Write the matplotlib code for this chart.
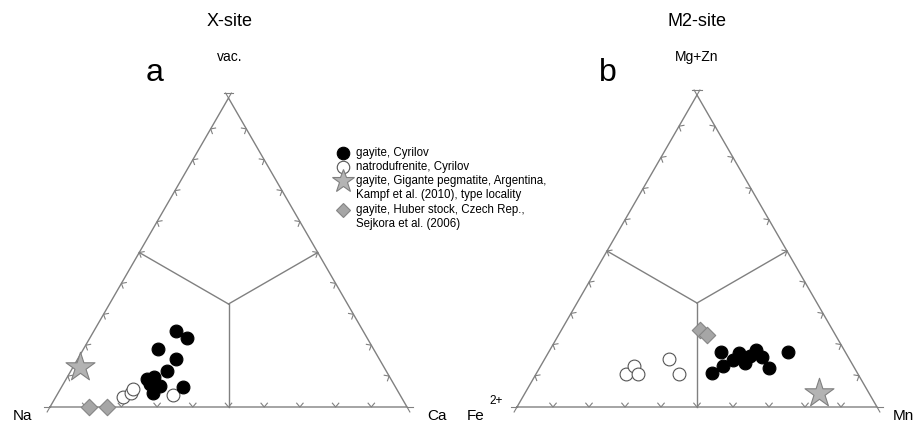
import numpy as np
import matplotlib
matplotlib.use("Agg")
import matplotlib.pyplot as plt
from matplotlib.lines import Line2D

plt.rcParams['font.family'] = ['Liberation Sans', 'DejaVu Sans']

# X-site (a): fractions of Ca (right corner) and vacancy (top corner), Na is the rest
a_gay_ca = [0.230, 0.272, 0.209, 0.275, 0.270, 0.226, 0.243, 0.274, 0.266, 0.340, 0.243]
a_gay_vac = [0.246, 0.223, 0.188, 0.155, 0.116, 0.091, 0.097, 0.068, 0.045, 0.065, 0.074]
a_nat_ca = [0.188, 0.204, 0.203, 0.325]
a_nat_vac = [0.032, 0.045, 0.058, 0.039]
a_kampf_ca = [0.019]
a_kampf_vac = [0.129]
a_sejk_ca = [0.109, 0.160]
a_sejk_vac = [0.0, 0.0]

# M2-site (b): fractions of Mn (right corner) and Mg+Zn (top corner), Fe2+ is the rest
b_gay_mn = [0.486, 0.507, 0.477, 0.525, 0.530, 0.562, 0.565, 0.572, 0.600, 0.639, 0.665]
b_gay_mg = [0.110, 0.132, 0.177, 0.151, 0.174, 0.142, 0.164, 0.183, 0.159, 0.124, 0.177]
b_nat_mn = [0.250, 0.259, 0.284, 0.346, 0.398]
b_nat_mg = [0.105, 0.132, 0.105, 0.154, 0.105]
b_kampf_mn = [0.817]
b_kampf_mg = [0.046]
b_sejk_mn = [0.385, 0.411]
b_sejk_mg = [0.247, 0.231]

legend_labels = [
    "gayite, Cyrilov",
    "natrodufrenite, Cyrilov",
    "gayite, Gigante pegmatite, Argentina,\nKampf et al. (2010), type locality",
    "gayite, Huber stock, Czech Rep.,\nSejkora et al. (2006)",
]

H = np.sqrt(3) / 2
GREY = "#808080"


def to_xy(right, top):
    right = np.asarray(right, float)
    top = np.asarray(top, float)
    return right + top / 2, top * H


def frame(ax):
    corners = np.array([[0, 0], [1, 0], [0.5, H]])
    tri = np.vstack([corners, corners[:1]])
    ax.plot(tri[:, 0], tri[:, 1], color=GREY, lw=1, clip_on=False)
    # lines from the centre to the middle of each side
    c = corners.mean(axis=0)
    for i in range(3):
        m = (corners[i] + corners[(i + 1) % 3]) / 2
        ax.plot([c[0], m[0]], [c[1], m[1]], color=GREY, lw=1, clip_on=False)
    # chevron ticks every 10 %
    L = 0.014
    ang = np.radians(40)
    for i in range(3):
        p0, p1 = corners[i], corners[(i + 1) % 3]
        t = (p1 - p0) / np.linalg.norm(p1 - p0)
        n = np.array([-t[1], t[0]])
        for k in range(1, 10):
            p = p0 + (p1 - p0) * k / 10
            a1 = p + L * (n * np.cos(ang) + t * np.sin(ang))
            a2 = p + L * (n * np.cos(ang) - t * np.sin(ang))
            ax.plot([a1[0], p[0], a2[0]], [a1[1], p[1], a2[1]],
                    color=GREY, lw=0.8, clip_on=False)
    # little caps at the corners
    for i in range(3):
        p = corners[i]
        for j in (i + 1, i + 2):
            q = corners[j % 3]
            d = (p - q) / np.linalg.norm(p - q)
            e = p + d * 0.016
            ax.plot([p[0], e[0]], [p[1], e[1]], color=GREY, lw=0.8, clip_on=False)
    ax.plot([0.5 - 0.014, 0.5 + 0.014], [H + 0.016 * H * 1.05] * 2,
            color=GREY, lw=0.8, clip_on=False)
    ax.set_xlim(0, 1)
    ax.set_ylim(0, H)
    ax.axis("off")


def points(ax, gay, nat, kampf, sejk):
    x, y = to_xy(*sejk)
    ax.scatter(x, y, marker="D", s=70, c="#a6a6a6", edgecolors="#858585",
               linewidths=0.8, clip_on=False, zorder=3)
    x, y = to_xy(*kampf)
    ax.scatter(x, y, marker="*", s=480, c="#b3b3b3", edgecolors="#808080",
               linewidths=0.8, clip_on=False, zorder=3)
    x, y = to_xy(*nat)
    ax.scatter(x, y, marker="o", s=85, c="white", edgecolors="#555555",
               linewidths=0.8, clip_on=False, zorder=3)
    x, y = to_xy(*gay)
    ax.scatter(x, y, marker="o", s=85, c="black", edgecolors="black",
               linewidths=0.8, clip_on=False, zorder=4)


W, Hpx = 916, 426
fig = plt.figure(figsize=(W / 100, Hpx / 100), dpi=100)

axa = fig.add_axes([50 / W, 19 / Hpx, 357 / W, 309 / Hpx])
axb = fig.add_axes([517 / W, 19 / Hpx, 360 / W, 312 / Hpx])
frame(axa)
frame(axb)
points(axa, (a_gay_ca, a_gay_vac), (a_nat_ca, a_nat_vac),
       (a_kampf_ca, a_kampf_vac), (a_sejk_ca, a_sejk_vac))
points(axb, (b_gay_mn, b_gay_mg), (b_nat_mn, b_nat_mg),
       (b_kampf_mn, b_kampf_mg), (b_sejk_mn, b_sejk_mg))


def ftext(x, y, s, size, **kw):
    fig.text(x / W, 1 - y / Hpx, s, fontsize=size, ha="center", va="center", **kw)


ftext(230, 22, "X-site", 13)
ftext(230, 57, "vac.", 10)
ftext(155, 73, "a", 23)
ftext(22, 416, "Na", 11)
ftext(437, 416, "Ca", 11)

ftext(697, 22, "M2-site", 13)
ftext(697, 57, "Mg+Zn", 10)
ftext(608, 73, "b", 23)
ftext(476, 416, "Fe", 11)
ftext(496, 401, "2+", 8.5)
ftext(903, 416, "Mn", 11)

# legend
lx, tx = 343, 356
rows = [153, 167, 181, 196, 210, 224]
styles = [
    dict(marker="o", ms=9, mfc="black", mec="black"),
    dict(marker="o", ms=9, mfc="white", mec="#555555"),
    dict(marker="*", ms=17, mfc="#b3b3b3", mec="#808080"),
    dict(marker="D", ms=7.5, mfc="#a6a6a6", mec="#858585"),
]
marker_rows = [rows[0], rows[1], rows[2], rows[4]]
for lab, st, ry in zip(legend_labels, styles, marker_rows):
    fig.add_artist(Line2D([lx / W], [1 - ry / Hpx], transform=fig.transFigure,
                          lw=0, mew=0.8, **st))
    for k, line in enumerate(lab.split("\n")):
        fig.text(tx / W, 1 - (ry + 14 * k) / Hpx, line, fontsize=8.3,
                 ha="left", va="center")

fig.savefig("out.png", dpi=100)
